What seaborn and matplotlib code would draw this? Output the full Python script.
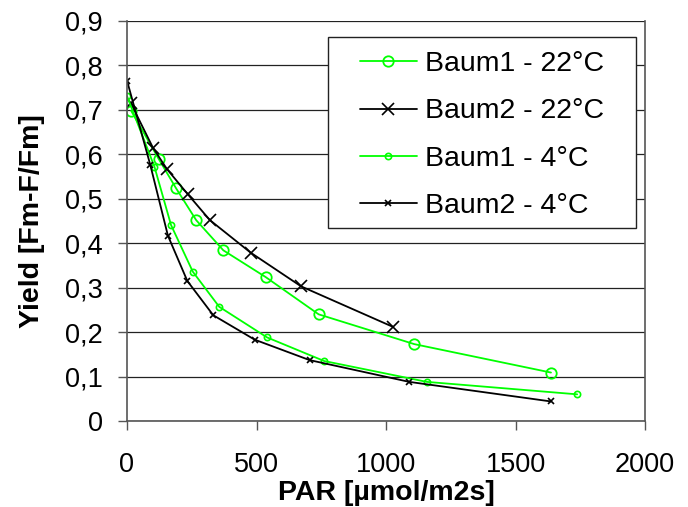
import matplotlib
matplotlib.use("Agg")
import matplotlib.pyplot as plt
import seaborn as sns
import pandas as pd
from matplotlib.patches import Rectangle
from matplotlib.ticker import FuncFormatter, MultipleLocator

# Light response of photosynthetic yield, two trees at two temperatures
baum1_22_par = [16, 122, 188, 267, 372, 535, 740, 1109, 1637]
baum1_22_yield = [0.698, 0.590, 0.525, 0.452, 0.384, 0.324, 0.240, 0.173, 0.109]

baum2_22_par = [15, 100, 154, 235, 320, 477, 672, 1026]
baum2_22_yield = [0.715, 0.615, 0.567, 0.510, 0.452, 0.379, 0.303, 0.212]

baum1_4_par = [0, 106, 170, 254, 356, 541, 761, 1158, 1738]
baum1_4_yield = [0.731, 0.572, 0.441, 0.336, 0.257, 0.188, 0.135, 0.088, 0.060]

baum2_4_par = [0, 90, 158, 233, 333, 493, 705, 1090, 1637]
baum2_4_yield = [0.766, 0.576, 0.417, 0.315, 0.238, 0.183, 0.137, 0.088, 0.044]

series_names = ["Baum1 - 22°C", "Baum2 - 22°C", "Baum1 - 4°C", "Baum2 - 4°C"]
x_ticks = [0, 500, 1000, 1500, 2000]

sns.set_theme(style="white")
plt.rcParams["font.family"] = ["Liberation Sans", "DejaVu Sans"]
plt.rcParams["text.color"] = "black"
plt.rcParams["axes.labelcolor"] = "black"

fig = plt.figure(figsize=(6.88, 5.07), dpi=100)
ax = fig.add_axes([127 / 688, 1 - 421 / 507, 518 / 688, 400 / 507])

green = "#00FF00"
styles = [
    (baum1_22_par, baum1_22_yield, dict(color=green, marker="o", markersize=7.5,
                                        markerfacecolor="none", markeredgecolor=green,
                                        markeredgewidth=1.3)),
    (baum2_22_par, baum2_22_yield, dict(color="black", marker="x", markersize=8,
                                        markeredgecolor="black", markeredgewidth=1.2)),
    (baum1_4_par, baum1_4_yield, dict(color=green, marker="o", markersize=4.5,
                                      markerfacecolor="none", markeredgecolor=green,
                                      markeredgewidth=1.2)),
    (baum2_4_par, baum2_4_yield, dict(color="black", marker="x", markersize=5,
                                      markeredgecolor="black", markeredgewidth=1.2)),
]

for name, (xs, ys, kw) in zip(series_names, styles):
    df = pd.DataFrame({"PAR": xs, "Yield": ys})
    sns.lineplot(data=df, x="PAR", y="Yield", ax=ax, sort=False, estimator=None,
                 linewidth=1.3, label=name, **kw)

ax.set_xlim(0, 2000)
ax.set_ylim(0, 0.9)
ax.set_xticks(x_ticks)
ax.yaxis.set_major_locator(MultipleLocator(0.1))
ax.yaxis.set_major_formatter(FuncFormatter(
    lambda v, _: "0" if abs(v) < 1e-9 else f"{v:.1f}".replace(".", ",")))

ax.grid(axis="y", color="#222222", linewidth=0.9)
ax.grid(axis="x", visible=False)
ax.set_axisbelow(True)
for side, sp in ax.spines.items():
    sp.set_color("#555555")
    sp.set_linewidth(1.2)
ax.spines["top"].set_visible(False)

ax.tick_params(axis="both", which="major", direction="out", length=6.5, width=1,
               color="#555555", labelsize=19.5, labelcolor="black")
ax.tick_params(axis="x", pad=16, bottom=True)
ax.tick_params(axis="y", pad=11, left=True)

ax.set_xlabel("PAR [µmol/m2s]", fontsize=20.5, fontweight="bold", labelpad=1,
              color="black")
ax.set_ylabel("Yield [Fm-F/Fm]", fontsize=20.5, fontweight="bold", labelpad=14,
              color="black")

# legend box drawn as a separate frame so its padding can be wider than tall
box = Rectangle((0.388, 0.4825), 0.5945, 0.4775, transform=ax.transAxes,
                facecolor="white", edgecolor="#222222", linewidth=1.0, zorder=4)
ax.add_patch(box)

leg = ax.legend(loc="upper left", bbox_to_anchor=(0.4498, 0.924), fontsize=20.5,
                frameon=False, borderpad=0, labelspacing=0.74, handlelength=2.0,
                handletextpad=0.28, borderaxespad=0, labelcolor="black")
leg.set_zorder(5)

fig.savefig("out.png", dpi=100)
